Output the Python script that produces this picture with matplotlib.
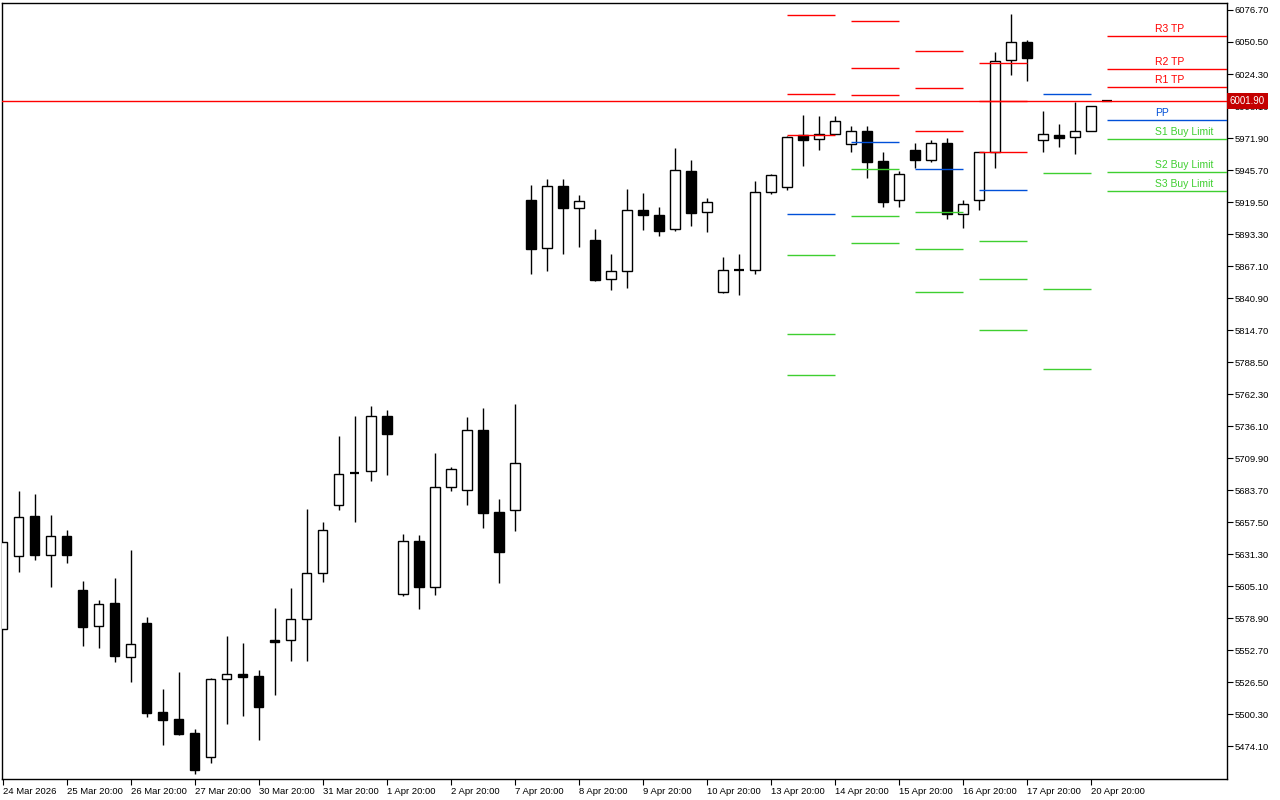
import numpy as np
import matplotlib
matplotlib.use("Agg")
import matplotlib.pyplot as plt
import matplotlib.transforms as mtransforms

# one entry per bar, bar 0 = 24 Mar 2026
opens = [5569.9, 5629.6, 5662.6, 5630.5, 5646.3, 5602.1, 5572.4, 5591.4, 5547.5, 5575.1,
         5502.2, 5496.5, 5485.0, 5465.2, 5529.0, 5533.3, 5531.7, 5561.1, 5560.9, 5578.1,
         5615.7, 5671.4, 5697.6, 5699.2, 5744.2, 5598.5, 5641.9, 5604.8, 5686.1, 5683.7,
         5732.8, 5665.7, 5667.3, 5921.0, 5881.7, 5932.4, 5914.9, 5888.5, 5856.3, 5862.9,
         5913.0, 5908.9, 5897.2, 5944.7, 5911.2, 5845.7, 5863.7, 5863.7, 5927.5, 5931.6,
         5974.2, 5970.9, 5975.0, 5966.8, 5977.4, 5952.9, 5921.0, 5961.9, 5953.7, 5967.6,
         5909.5, 5921.0, 5960.3, 6035.5, 6050.3, 5970.1, 5974.4, 5972.5, 5977.4, 6001.9]
highs = [5641.1, 5683.1, 5680.6, 5663.4, 5651.2, 5609.4, 5593.9, 5611.9, 5634.8, 5580.0,
         5521.1, 5535.0, 5488.3, 5530.1, 5564.4, 5558.7, 5536.6, 5587.3, 5603.7, 5668.4,
         5657.5, 5728.1, 5744.5, 5752.6, 5749.4, 5647.9, 5647.1, 5714.2, 5702.7, 5743.6,
         5751.0, 5676.5, 5754.3, 5933.5, 5938.4, 5938.4, 5925.3, 5897.5, 5877.0, 5930.2,
         5926.9, 5915.5, 5963.8, 5954.0, 5922.9, 5874.6, 5877.0, 5936.8, 5942.5, 5973.6,
         5990.8, 5990.0, 5990.0, 5981.8, 5981.8, 5960.5, 5944.9, 5967.9, 5970.1, 5972.0,
         5921.0, 5960.3, 6042.1, 6073.4, 6052.2, 5994.0, 5983.4, 6001.4, 5997.9, 6001.9]
lows = [5569.9, 5617.0, 5626.9, 5604.8, 5624.4, 5556.5, 5554.9, 5543.4, 5527.0, 5498.4,
        5475.2, 5483.7, 5451.7, 5460.7, 5492.7, 5499.2, 5479.6, 5516.4, 5544.2, 5544.2,
        5608.9, 5667.5, 5658.0, 5691.5, 5696.4, 5597.4, 5586.8, 5598.2, 5683.3, 5671.9,
        5653.0, 5608.0, 5650.6, 5860.9, 5863.4, 5877.3, 5883.0, 5855.2, 5847.8, 5849.4,
        5896.9, 5892.0, 5896.1, 5900.2, 5895.3, 5845.1, 5843.7, 5860.9, 5926.4, 5929.6,
        5949.3, 5962.4, 5975.0, 5960.7, 5939.5, 5915.7, 5915.7, 5947.6, 5952.6, 5905.9,
        5898.5, 5912.8, 5947.6, 6023.8, 6018.8, 5960.7, 5964.8, 5959.1, 5977.4, 6001.9]
closes = [5641.1, 5661.6, 5631.0, 5646.0, 5631.0, 5572.0, 5590.4, 5548.3, 5557.9, 5501.7,
          5495.9, 5484.5, 5455.0, 5529.2, 5533.1, 5531.1, 5506.6, 5559.8, 5578.1, 5615.7,
          5650.9, 5696.7, 5697.6, 5744.2, 5730.0, 5641.9, 5604.8, 5686.1, 5700.8, 5732.8,
          5665.3, 5633.4, 5705.7, 5881.4, 5932.4, 5914.9, 5920.2, 5856.0, 5862.9, 5912.8,
          5909.2, 5896.1, 5945.5, 5910.8, 5919.3, 5863.7, 5863.7, 5927.5, 5941.4, 5972.5,
          5970.6, 5975.0, 5985.6, 5977.4, 5952.6, 5919.8, 5942.2, 5954.2, 5967.6, 5909.5,
          5917.7, 5960.3, 6034.7, 6050.3, 6037.7, 5975.0, 5972.2, 5977.4, 5997.9, 6001.9]

date_labels = ["24 Mar 2026", "25 Mar 20:00", "26 Mar 20:00", "27 Mar 20:00", "30 Mar 20:00",
               "31 Mar 20:00", "1 Apr 20:00", "2 Apr 20:00", "7 Apr 20:00", "8 Apr 20:00",
               "9 Apr 20:00", "10 Apr 20:00", "13 Apr 20:00", "14 Apr 20:00", "15 Apr 20:00",
               "16 Apr 20:00", "17 Apr 20:00", "20 Apr 20:00"]
date_bars = [0, 4, 8, 12, 16, 20, 24, 28, 32, 36, 40, 44, 48, 52, 56, 60, 64, 68]

price_ticks = [6076.7, 6050.5, 6024.3, 5998.1, 5971.9, 5945.7, 5919.5, 5893.3, 5867.1,
               5840.9, 5814.7, 5788.5, 5762.3, 5736.1, 5709.9, 5683.7, 5657.5, 5631.3,
               5605.1, 5578.9, 5552.7, 5526.5, 5500.3, 5474.1]

# daily pivot levels (previous days), R levels of the last day are off the chart
day_start = [49, 53, 57, 61, 65]
r3 = [6072.6, 6067.7, 6043.1, 6033.3, np.nan]
r2 = [6008.0, 6029.2, 6012.9, 6002.2, np.nan]
r1 = [5974.4, 6007.1, 5977.7, 5960.5, np.nan]
pp = [5909.8, 5968.7, 5946.6, 5929.4, 6008.0]
s1 = [5876.2, 5946.6, 5911.4, 5887.7, 5943.3]
s2 = [5811.6, 5908.1, 5881.1, 5856.6, 5848.4]
s3 = [5778.0, 5886.0, 5845.9, 5814.8, 5782.9]

# current day levels
cur_names = ["R3 TP", "R2 TP", "R1 TP", "PP", "S1 Buy Limit", "S2 Buy Limit", "S3 Buy Limit"]
cur_vals = [6055.4, 6028.4, 6013.7, 5986.7, 5971.1, 5944.1, 5928.6]
last_price = 6001.9

RED, BLUE, GREEN = "#ff0000", "#0050d8", "#3fcf30"
cur_colors = [RED, RED, RED, BLUE, GREEN, GREEN, GREEN]

plt.rcParams["font.family"] = ["Liberation Sans", "DejaVu Sans"]
fig = plt.figure(figsize=(12.8, 8), dpi=100, facecolor="white")
ax = fig.add_axes([2 / 1280, 21 / 800, 1225 / 1280, 776 / 800])
ax.set_facecolor("white")

n = len(opens)
x = np.arange(n)
o, h, l, c = map(np.array, (opens, highs, lows, closes))

ax.vlines(x, l, h, color="black", lw=1.0, zorder=2)
bw = 0.58
for i in range(n):
    if abs(c[i] - o[i]) < 0.05:
        ax.hlines(o[i], i - bw / 2, i + bw / 2, color="black", lw=1.6, zorder=3)
        continue
    fill = "white" if c[i] > o[i] else "black"
    ax.bar(i, abs(c[i] - o[i]), bottom=min(o[i], c[i]), width=bw, color=fill,
           edgecolor="black", linewidth=1.0, zorder=3)

# pivot segments per day
for k, s in enumerate(day_start):
    for arr, col in ((r3, RED), (r2, RED), (r1, RED), (pp, BLUE), (s1, GREEN), (s2, GREEN), (s3, GREEN)):
        if not np.isnan(arr[k]):
            ax.hlines(arr[k], s, s + 3, color=col, lw=1.0, zorder=4)

xmin, xmax = -0.05, 76.5
for name, v, col in zip(cur_names, cur_vals, cur_colors):
    ax.hlines(v, 69, xmax, color=col, lw=1.0, zorder=4)
    ax.annotate(name, (72.0, v), xytext=(0, 1.5), textcoords="offset points",
                color=col, fontsize=7.5, ha="left", va="bottom", zorder=5)

ax.axhline(last_price, color=RED, lw=1.0, zorder=4)

ax.set_xlim(xmin, xmax)
ax.set_ylim(5447.4, 6082.4)

ax.yaxis.tick_right()
ax.set_yticks(price_ticks)
ax.set_yticklabels([f"{t:.2f}" for t in price_ticks], fontsize=6.8)
ax.set_xticks(date_bars)
ax.set_xticklabels(date_labels, fontsize=6.8, ha="left")
ax.tick_params(axis="both", length=4, width=0.8, color="black", direction="out", pad=1.5)
for sp in ax.spines.values():
    sp.set_color("black")
    sp.set_linewidth(1.0)

trans = mtransforms.blended_transform_factory(ax.transAxes, ax.transData)
ax.annotate(f"{last_price:.2f}", (1.0, last_price), xycoords=trans, xytext=(2, 0),
            textcoords="offset points", ha="left", va="center", color="white", fontsize=7,
            bbox=dict(boxstyle="square,pad=0.3", facecolor="#c40000", edgecolor="none"),
            annotation_clip=False, zorder=10)

fig.savefig("out.png", dpi=100, facecolor="white")
